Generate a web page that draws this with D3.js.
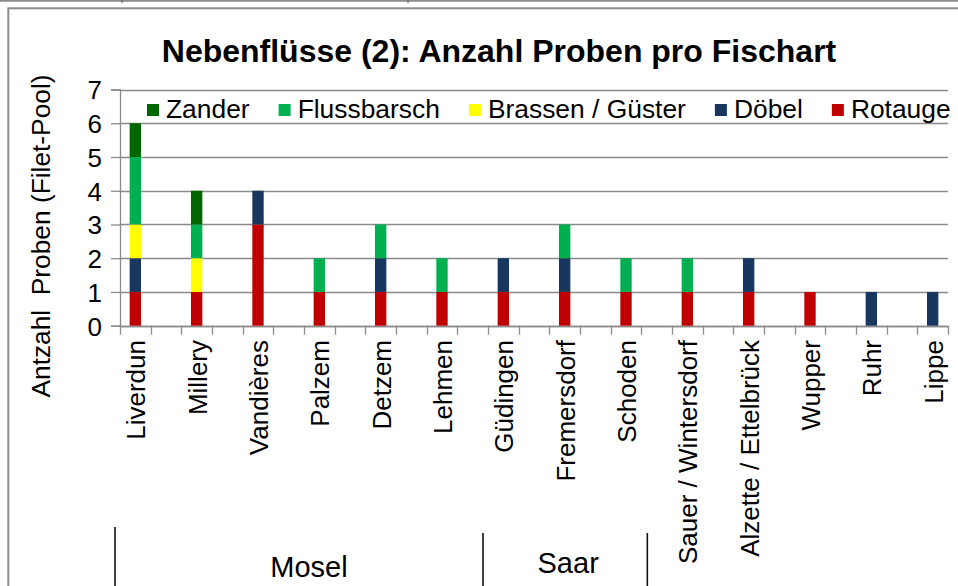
<!DOCTYPE html>
<html>
<head>
<meta charset="utf-8">
<script src="https://cdn.jsdelivr.net/npm/d3@7/dist/d3.min.js"></script>
<style>
  html, body { margin: 0; padding: 0; background: #fff; }
  svg { display: block; }
  text { font-family: "Liberation Sans", Arial, sans-serif; fill: #000; }
</style>
</head>
<body>
<svg id="chart" width="958" height="586"></svg>
<script>
// ---------- data ----------
const title = "Nebenflüsse (2): Anzahl Proben pro Fischart";
const yTitle = "Antzahl  Proben (Filet-Pool)";
const categories = ["Liverdun", "Millery", "Vandières", "Palzem", "Detzem", "Lehmen",
  "Güdingen", "Fremersdorf", "Schoden", "Sauer / Wintersdorf", "Alzette / Ettelbrück",
  "Wupper", "Ruhr", "Lippe"];
// stacked bottom -> top
const seriesNames = ["Rotauge", "Döbel", "Brassen / Güster", "Flussbarsch", "Zander"];
const rotauge     = [1, 1, 3, 1, 1, 1, 1, 1, 1, 1, 1, 1, 0, 0];
const doebel      = [1, 0, 1, 0, 1, 0, 1, 1, 0, 0, 1, 0, 1, 1];
const brassen     = [1, 1, 0, 0, 0, 0, 0, 0, 0, 0, 0, 0, 0, 0];
const flussbarsch = [2, 1, 0, 1, 1, 1, 0, 1, 1, 1, 0, 0, 0, 0];
const zander      = [1, 1, 0, 0, 0, 0, 0, 0, 0, 0, 0, 0, 0, 0];
const seriesValues = [rotauge, doebel, brassen, flussbarsch, zander];
const colors = ["#C00000", "#17375E", "#FFFF00", "#00B050", "#006600"];
const legendOrder = ["Zander", "Flussbarsch", "Brassen / Güster", "Döbel", "Rotauge"];
const yTicks = [0, 1, 2, 3, 4, 5, 6, 7];
const groups = [
  { name: "Mosel", first: "Liverdun", last: "Lehmen" },
  { name: "Saar", first: "Güdingen", last: "Schoden" }
];

// ---------- layout ----------
const svg = d3.select("#chart");
const plotLeft = 120, plotRight = 948, plotTop = 89.5, plotBottom = 325.7;
const grid = "#8a8a8a";

// slots: each category followed by an empty slot (except the last)
const slots = [];
categories.forEach((c, i) => { slots.push(c); if (i < categories.length - 1) slots.push("_gap" + i); });

const x = d3.scaleBand().domain(slots).range([plotLeft, plotRight]).paddingInner(0).paddingOuter(0);
const y = d3.scaleLinear().domain([0, 7]).range([plotBottom, plotTop]);
const bw = x.bandwidth();
const barW = bw * 0.37;

// outer chart frame
svg.append("rect").attr("x", 0).attr("y", 0).attr("width", 958).attr("height", 586).attr("fill", "#fff");
svg.append("line").attr("x1", 0).attr("x2", 958).attr("y1", 0.8).attr("y2", 0.8)
  .attr("stroke", "#8c8c8c").attr("stroke-width", 2);
[122, 408].forEach(px => svg.append("line").attr("x1", px).attr("x2", px).attr("y1", 0).attr("y2", 3)
  .attr("stroke", "#555").attr("stroke-width", 1));
svg.append("rect").attr("x", 8.3).attr("y", 8.3).attr("width", 1200).attr("height", 900)
  .attr("fill", "#fff").attr("stroke", "#8c8c8c").attr("stroke-width", 2);

// gridlines
svg.append("g").selectAll("line").data(yTicks).join("line")
  .attr("x1", plotLeft).attr("x2", plotRight)
  .attr("y1", d => Math.round(y(d)) + 0.5).attr("y2", d => Math.round(y(d)) + 0.5)
  .attr("stroke", grid).attr("stroke-width", 1.3);

// y axis
const yAxis = d3.axisLeft(y).tickValues(yTicks).tickSize(9).tickPadding(9).tickFormat(d3.format("d"));
const gy = svg.append("g").attr("transform", `translate(${plotLeft},0)`).call(yAxis);
gy.select(".domain").attr("stroke", grid).attr("stroke-width", 1.3);
gy.selectAll(".tick line").attr("stroke", grid).attr("stroke-width", 1.3);
gy.selectAll(".tick text").attr("font-size", 26).attr("font-family", "'Liberation Sans', Arial, sans-serif")
  .attr("fill", "#000").attr("dy", "0.36em");

// x axis ticks at every slot boundary
const boundaries = slots.map(s => x(s)).concat([plotRight]);
svg.append("g").selectAll("line").data(boundaries).join("line")
  .attr("x1", d => Math.round(d) + 0.5).attr("x2", d => Math.round(d) + 0.5)
  .attr("y1", plotBottom).attr("y2", plotBottom + 9)
  .attr("stroke", grid).attr("stroke-width", 1.3);
svg.append("line").attr("x1", plotLeft).attr("x2", plotRight)
  .attr("y1", Math.round(plotBottom) + 0.5).attr("y2", Math.round(plotBottom) + 0.5)
  .attr("stroke", grid).attr("stroke-width", 1.3);

// stacked bars
const table = categories.map((c, i) => {
  const o = { cat: c };
  seriesNames.forEach((s, k) => o[s] = seriesValues[k][i]);
  return o;
});
const stacked = d3.stack().keys(seriesNames)(table);
svg.append("g").selectAll("g").data(stacked).join("g")
  .attr("fill", (d, i) => colors[i])
  .selectAll("rect").data(d => d.filter(p => p[1] > p[0])).join("rect")
  .attr("x", d => x(d.data.cat) + (bw - barW) / 2)
  .attr("width", barW)
  .attr("y", d => y(d[1]))
  .attr("height", d => y(d[0]) - y(d[1]));

// x labels
svg.append("g").selectAll("text").data(categories).join("text")
  .attr("transform", d => `translate(${x(d) + bw / 2},340) rotate(-90)`)
  .attr("text-anchor", "end").attr("dy", "0.38em")
  .attr("font-size", 26).text(d => d);

// title
svg.append("text").attr("x", 499).attr("y", 62).attr("text-anchor", "middle")
  .attr("font-size", 32).attr("font-weight", "bold").text(title);

// y title
svg.append("text").attr("transform", "translate(50,236) rotate(-90)")
  .attr("text-anchor", "middle").attr("font-size", 26.3).style("white-space", "pre").text(yTitle);

// legend
const lg = svg.append("g");
let lx = 147;
legendOrder.forEach(name => {
  const k = seriesNames.indexOf(name);
  lg.append("rect").attr("x", lx).attr("y", 104).attr("width", 12).attr("height", 12).attr("fill", colors[k]);
  const t = lg.append("text").attr("x", lx + 19).attr("y", 118).attr("font-size", 26.4).text(name);
  lx += 19 + t.node().getComputedTextLength() + 29;
});

// group labels (multi-level category axis)
const gEdges = [];
groups.forEach((g, i) => {
  const left = x(g.first) - 5;
  const right = x(g.last) + bw + 6;
  gEdges.push({ left, right, name: g.name, i });
});
const edgeLines = [
  { px: gEdges[0].left, top: 527 },
  { px: gEdges[1].left, top: 533 },
  { px: gEdges[1].right, top: 533 }
];
svg.append("g").selectAll("line").data(edgeLines).join("line")
  .attr("x1", d => d.px).attr("x2", d => d.px).attr("y1", d => d.top).attr("y2", 586)
  .attr("stroke", "#111").attr("stroke-width", 1.6);
const labelX = [
  (edgeLines[0].px + edgeLines[1].px) / 2 + 10,
  (edgeLines[1].px + edgeLines[2].px) / 2 + 3
];
const labelY = [577, 573];
svg.append("g").selectAll("text").data(groups).join("text")
  .attr("x", (d, i) => labelX[i]).attr("y", (d, i) => labelY[i])
  .attr("text-anchor", "middle").attr("font-size", 29).text(d => d.name);
</script>
</body>
</html>
